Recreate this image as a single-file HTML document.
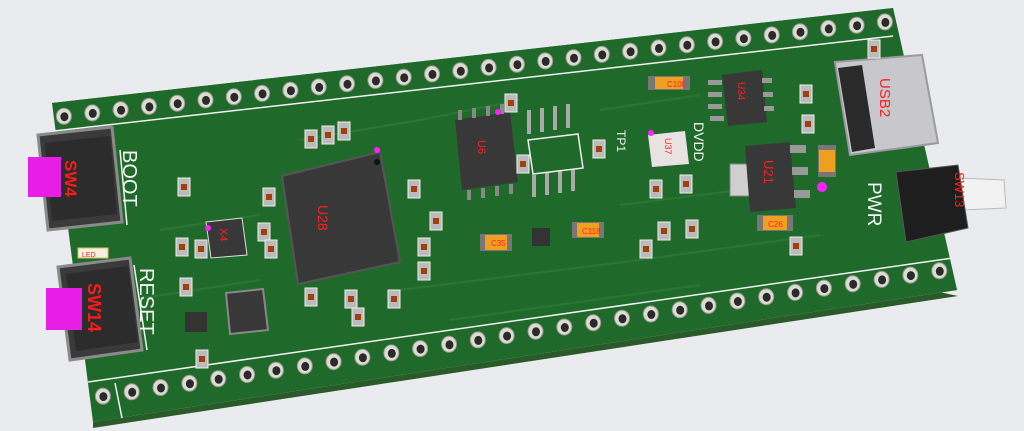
<!DOCTYPE html>
<html><head><meta charset="utf-8"><style>
html,body{margin:0;padding:0;background:#e9ebee;}
svg{display:block}
text{font-family:"Liberation Sans",sans-serif}
</style></head><body>
<svg id="s" width="1024" height="431" viewBox="0 0 1024 431" xmlns="http://www.w3.org/2000/svg">
<rect width="1024" height="431" fill="#e9ebee"/>
<polygon points="52,103 893,8 957,290 93,422 93,428 958,296" fill="#2a5a2a"/>
<polygon points="52,103 893,8 957,290 93,422" fill="#1f6a2b"/>
<g id="traces" stroke="#2c7a36" stroke-width="2" fill="none" opacity="0.8">
<path d="M300,140 L420,120 L520,100 M160,230 L260,215 M400,290 L640,260 L820,235 M450,320 L700,285 M620,205 L740,190 M130,300 L260,280 M600,110 L700,95"/>
</g>
<g id="holes"></g>
<g stroke="#f2f2f2" stroke-width="1.5" fill="none">
<polyline points="54,131 893,36"/>
<polyline points="88,382 953,258"/>
<polyline points="120,150 127,225"/>
<polyline points="134,265 147,350"/>
<polyline points="115,383 122,418"/>
</g>
<!-- SW4 BOOT -->
<polygon points="38,135 112,127 122,222 48,230" fill="#3a3a3a" stroke="#8a8a8a" stroke-width="3"/>
<polygon points="45,143 110,136 117,214 52,221" fill="#2c2c2c"/>
<rect x="28" y="157" width="33" height="40" fill="#e61ee6"/>
<text x="0" y="0" transform="translate(65,160) rotate(90)" fill="#ff1a1a" font-size="17" font-weight="bold">SW4</text>
<!-- SW14 RESET -->
<polygon points="58,267 130,258 142,350 70,360" fill="#3a3a3a" stroke="#8a8a8a" stroke-width="3"/>
<polygon points="66,274 128,266 138,342 76,351" fill="#2c2c2c"/>
<rect x="46" y="288" width="36" height="42" fill="#e61ee6"/>
<text transform="translate(88,283) rotate(90)" fill="#ff1a1a" font-size="18" font-weight="bold">SW14</text>
<rect x="78" y="248" width="30" height="10" fill="#f5f0e0" stroke="#d4c060"/>
<text x="82" y="257" fill="#ff2020" font-size="7">LED</text>
<text transform="translate(123,150) rotate(90)" fill="#f4f4f4" font-size="20">BOOT</text>
<text transform="translate(140,268) rotate(90)" fill="#f4f4f4" font-size="20">RESET</text>
<text transform="translate(868,182) rotate(90)" fill="#f4f4f4" font-size="19">PWR</text>
<text transform="translate(694,122) rotate(90)" fill="#f4f4f4" font-size="14">DVDD</text>
<text transform="translate(617,130) rotate(90)" fill="#f4f4f4" font-size="12">TP1</text>
<polygon points="282,176 380,152 400,262 298,284" fill="#383838" stroke="#555" stroke-width="2"/>
<text transform="translate(318,205) rotate(90)" fill="#ff2020" font-size="14">U28</text>
<circle cx="377" cy="162" r="3" fill="#111"/>
<polygon points="455,120 510,112 518,182 462,190" fill="#383838"/>
<g fill="#888"><rect x="458" y="110" width="4" height="10"/><rect x="472" y="108" width="4" height="10"/><rect x="486" y="106" width="4" height="10"/><rect x="500" y="104" width="4" height="10"/>
<rect x="467" y="190" width="4" height="10"/><rect x="481" y="188" width="4" height="10"/><rect x="495" y="186" width="4" height="10"/><rect x="509" y="184" width="4" height="10"/></g>
<text transform="translate(478,140) rotate(90)" fill="#ff2020" font-size="11">U6</text>
<g fill="#aaa"><rect x="527" y="110" width="4" height="24"/><rect x="540" y="108" width="4" height="24"/><rect x="553" y="106" width="4" height="24"/><rect x="566" y="104" width="4" height="24"/>
<rect x="532" y="175" width="4" height="22"/><rect x="545" y="173" width="4" height="22"/><rect x="558" y="171" width="4" height="22"/><rect x="571" y="169" width="4" height="22"/></g>
<polygon points="528,140 578,134 583,168 533,174" fill="none" stroke="#eee" stroke-width="1.5"/>
<polygon points="722,75 762,70 767,122 728,126" fill="#383838"/>
<g fill="#999"><rect x="708" y="80" width="14" height="5"/><rect x="708" y="92" width="14" height="5"/><rect x="708" y="104" width="14" height="5"/><rect x="710" y="116" width="14" height="5"/><rect x="762" y="78" width="10" height="5"/><rect x="763" y="92" width="10" height="5"/><rect x="764" y="106" width="10" height="5"/></g>
<text transform="translate(738,82) rotate(90)" fill="#ff2020" font-size="10">U34</text>
<rect x="730" y="164" width="22" height="32" fill="#cfcfcf" stroke="#888"/>
<polygon points="745,146 790,142 796,208 750,212" fill="#383838"/>
<g fill="#999"><rect x="790" y="145" width="16" height="8"/><rect x="792" y="167" width="16" height="8"/><rect x="794" y="190" width="16" height="8"/></g>
<text transform="translate(764,160) rotate(90)" fill="#ff2020" font-size="13">U21</text>
<polygon points="648,135 685,131 689,164 652,167" fill="#e8e2e2"/>
<text transform="translate(665,138) rotate(90)" fill="#ff2020" font-size="9">U37</text>
<polygon points="835,62 922,55 938,143 850,155" fill="#c8c8cc" stroke="#9a9aa0" stroke-width="2"/>
<polygon points="838,68 862,65 875,148 852,152" fill="#2a2a2a"/>
<text transform="translate(880,78) rotate(90)" fill="#ff2020" font-size="15">USB2</text>
<polygon points="960,178 1004,180 1006,208 962,210" fill="#f2f2f2" stroke="#bbb"/>
<polygon points="896,172 958,165 968,228 906,242" fill="#1e1e1e" stroke="#555"/>
<text transform="translate(955,172) rotate(90)" fill="#ff2020" font-size="13">SW13</text>
<polygon points="206,222 242,218 247,255 211,258" fill="#383838" stroke="#ddd"/>
<text transform="translate(220,228) rotate(90)" fill="#ff2020" font-size="11">X4</text>
<polygon points="226,293 263,289 268,330 230,334" fill="#383838" stroke="#888" stroke-width="2"/>
<rect x="185" y="312" width="22" height="20" fill="#333"/>
<g>
<rect x="648" y="76" width="42" height="14" fill="#777"/><rect x="655" y="77" width="28" height="12" fill="#f0a020"/>
<rect x="480" y="234" width="32" height="17" fill="#777"/><rect x="485" y="235" width="22" height="15" fill="#f0a020"/>
<rect x="572" y="222" width="32" height="16" fill="#777"/><rect x="577" y="223" width="22" height="14" fill="#f0a020"/>
<rect x="757" y="215" width="36" height="16" fill="#777"/><rect x="763" y="216" width="24" height="14" fill="#f0a020"/>
<rect x="818" y="145" width="18" height="32" fill="#777"/><rect x="819" y="150" width="16" height="22" fill="#f0a020"/>
<rect x="532" y="228" width="18" height="18" fill="#333"/>
</g>
<g fill="#ff2020" font-size="8">
<text x="491" y="246">C35</text><text x="582" y="234">C118</text><text x="667" y="87">C100</text><text x="768" y="227">C26</text>
</g>
<g id="sm" fill="#d9d9d9"></g>
<g fill="#ff20ff"><circle cx="377" cy="150" r="3"/><circle cx="498" cy="112" r="3"/><circle cx="822" cy="187" r="5"/><circle cx="651" cy="133" r="3"/><circle cx="208" cy="228" r="3"/></g>
</svg>
<script>
var A=[52,103],B=[893,8],C=[957,290],D=[93,422];
function P(u,v){return [(1-u)*(1-v)*A[0]+u*(1-v)*B[0]+u*v*C[0]+(1-u)*v*D[0],(1-u)*(1-v)*A[1]+u*(1-v)*B[1]+u*v*C[1]+(1-u)*v*D[1]];}
var g=document.getElementById('holes'),h='';
function hole(u,v){var p=P(u,v);h+='<ellipse cx="'+p[0].toFixed(1)+'" cy="'+p[1].toFixed(1)+'" rx="7.5" ry="8" fill="#dcdcd4" stroke="#9a9a90"/><ellipse cx="'+(p[0]+0.5).toFixed(1)+'" cy="'+(p[1]+0.5).toFixed(1)+'" rx="4" ry="4.5" fill="#2a2a2a"/>';}
var n=30;
for(var i=0;i<n;i++){hole(0.012+i*(0.975/(n-1)),0.045);}
for(var i=0;i<n;i++){hole(0.015+i*(0.97/(n-1)),0.925);}
g.innerHTML=h;
var sm=[[178,178],[195,240],[263,188],[258,223],[265,240],[305,130],[322,126],[338,122],[305,288],[345,290],[352,308],[408,180],[430,212],[418,238],[418,262],[388,290],[505,94],[593,140],[517,155],[650,180],[680,175],[658,222],[686,220],[640,240],[800,85],[802,115],[868,40],[790,237],[180,278],[196,350],[176,238]];
var s='';sm.forEach(function(q){s+='<rect x="'+q[0]+'" y="'+q[1]+'" width="12" height="18" fill="#bbb" stroke="#eee"/><rect x="'+(q[0]+3)+'" y="'+(q[1]+6)+'" width="6" height="6" fill="#a04010"/>';});
document.getElementById('sm').innerHTML=s;
</script>
</body></html>
